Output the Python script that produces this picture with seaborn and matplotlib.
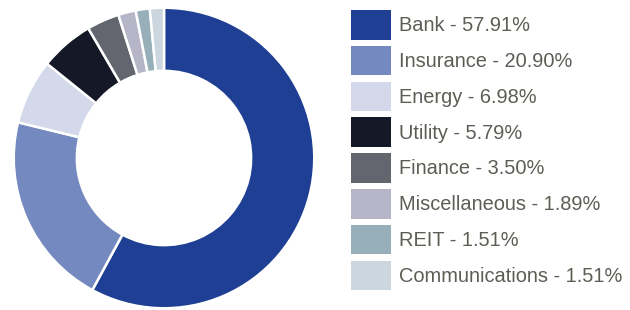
import matplotlib
matplotlib.use("Agg")
import matplotlib.pyplot as plt
import matplotlib.patches as mpatches
import seaborn as sns

# Sector weights
sectors = ['Bank', 'Insurance', 'Energy', 'Utility', 'Finance',
           'Miscellaneous', 'REIT', 'Communications']
weights = [57.91, 20.90, 6.98, 5.79, 3.50, 1.89, 1.51, 1.51]
colors = ['#1e3f94', '#7489bf', '#d3d9eb', '#151826', '#63666f',
          '#b6b5c8', '#97afb8', '#cbd6de']

sns.set_style("white")
plt.rcParams['font.family'] = ['Liberation Sans', 'DejaVu Sans']

fig = plt.figure(figsize=(6.3, 3.1), dpi=100)
ax = fig.add_axes([13 / 630, 1 / 310, 302 / 630, 302 / 310])

ax.pie(weights, colors=colors, startangle=90, counterclock=False,
       radius=1.0,
       wedgeprops=dict(width=0.42, edgecolor='white', linewidth=1.8))
ax.set_aspect('equal')
ax.set_xlim(-1.005, 1.005)
ax.set_ylim(-1.005, 1.005)
ax.axis('off')

handles = [mpatches.Patch(facecolor=c, edgecolor='none') for c in colors]
labels = [f"{s} - {w:.2f}%" for s, w in zip(sectors, weights)]
fs = 14.4
fig.legend(handles, labels, loc='upper left',
           bbox_to_anchor=(351 / 630, 1 - 10 / 310),
           frameon=False, fontsize=fs, borderpad=0, borderaxespad=0,
           handlelength=2.0, handleheight=1.9, handletextpad=0.4,
           labelspacing=0.31, labelcolor='#5e5d55')

fig.savefig('out.png', dpi=100)
